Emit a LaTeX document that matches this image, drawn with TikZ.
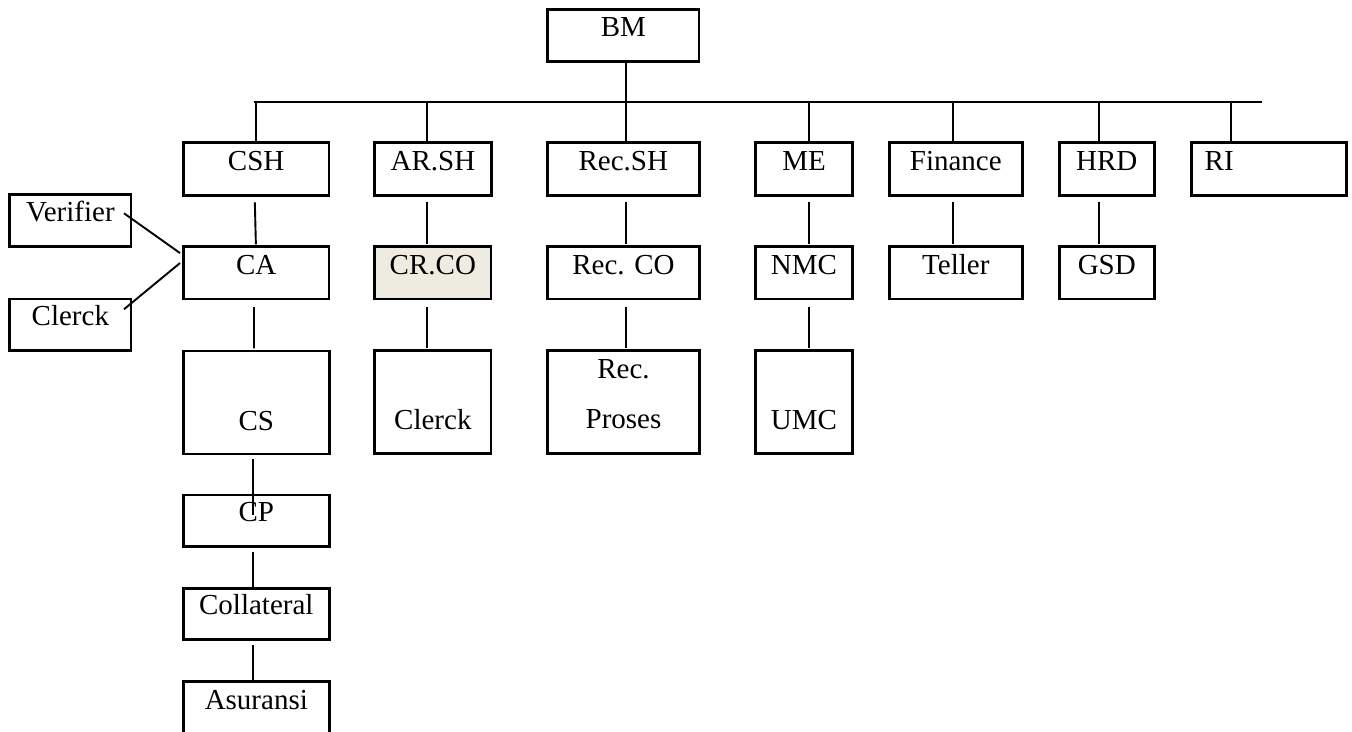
\documentclass[tikz,border=0pt]{standalone}
\usepackage{fontspec}
\setmainfont{Liberation Serif}
\usetikzlibrary{calc}
\definecolor{bgbeige}{HTML}{EEECE1}
\begin{document}
\begin{tikzpicture}[x=1pt,y=-1pt,
  bx/.style={draw, line width=2.5pt, inner sep=0pt, outer sep=0pt, anchor=north west,
    font=\fontsize{29}{32}\selectfont, text height=27.5pt, text depth=24.8pt},
  conn/.style={line width=1.9pt},
  sub/.style={conn, shorten <=7pt, shorten >=2.4pt}]
\useasboundingbox (0,0) rectangle (1352,731);
\fill[white] (0,0) rectangle (1352,731);
\clip (0,0) rectangle (1352,731);

% top
\node[bx, minimum width=151.3pt, text depth=24.9pt] (bm) at (547.7,9.3) {BM};

% first row
\node[bx, minimum width=145.7pt, text depth=25.3pt] (csh) at (183.3,142.5) {CSH};
\node[bx, minimum width=117.4pt, text depth=25.3pt] (arsh) at (374.3,142.5) {AR.SH};
\node[bx, minimum width=152pt, text depth=25.3pt] (recsh) at (547.3,142.5) {Rec.SH};
\node[bx, minimum width=96.6pt, text depth=25.3pt] (me) at (755.7,142.5) {ME};
\node[bx, minimum width=133pt, text depth=25.3pt] (fin) at (889.3,142.5) {Finance};
\node[bx, minimum width=95pt, text depth=25.3pt] (hrd) at (1059.3,142.5) {HRD};
\node[bx, text width=129pt, align=left, inner xsep=13pt, text depth=25.3pt] (ri) at (1191.7,142.5) {RI};

% second row
\node[bx, minimum width=121.3pt, text height=27pt, text depth=24.6pt] (verifier) at (9.7,194.7) {Verifier};
\node[bx, minimum width=145.5pt] (ca) at (183.5,246.7) {CA};
\node[bx, minimum width=116.3pt, fill=bgbeige] (crco) at (374.7,246.7) {CR.CO};
\node[bx, minimum width=151.6pt] (recco) at (547.7,246.7) {Rec. CO};
\node[bx, minimum width=96.6pt] (nmc) at (755.7,246.7) {NMC};
\node[bx, minimum width=133pt] (teller) at (889.3,246.7) {Teller};
\node[bx, minimum width=95pt] (gsd) at (1059.3,246.7) {GSD};
\node[bx, minimum width=121.3pt, text height=26pt, text depth=25.7pt] (clerckl) at (9.7,299) {Clerck};

% third row
\node[bx, minimum width=146pt, text height=79pt, text depth=24pt] (cs) at (183.3,351) {CS};
\node[bx, minimum width=116.3pt, text height=78.5pt, text depth=24.1pt] (clerckm) at (374.7,350.7) {Clerck};
\node[bx, minimum width=151.6pt, align=center, font=\fontsize{29}{50}\selectfont,
      text height=77.6pt, text depth=25pt] (recpro) at (547.7,350.7) {Rec.\\Proses};
\node[bx, minimum width=96.6pt, text height=78.5pt, text depth=24.1pt] (umc) at (755.7,350.7) {UMC};

% CS chain
\node[bx, minimum width=146pt, text height=26.7pt, text depth=25pt] (cp) at (183.3,495) {CP};
\node[bx, minimum width=146pt, text height=25.7pt, text depth=25.3pt] (coll) at (183.3,588.3) {Collateral};
\node[bx, minimum width=146pt, text height=27.6pt, text depth=40pt] (asur) at (183.3,681.7) {Asuransi};

% bar junctions
\coordinate (jstart) at (253.5,102.3);
\coordinate (jend) at (1262,102.3);
\coordinate (j1) at (255.7,102.3);
\coordinate (j2) at (427.3,102.3);
\coordinate (j3) at (626,102.3);
\coordinate (j4) at (808.7,102.3);
\coordinate (j5) at (953,102.3);
\coordinate (j6) at (1099.3,102.3);
\coordinate (j7) at (1230.7,102.3);

\draw[conn] (jstart) -- (jend);
\draw[conn, shorten <=1.5pt] (j3 |- bm.south) -- (j3 |- recsh.north);
\draw[conn] (j1) -- (j1 |- csh.north);
\draw[conn] (j2) -- (j2 |- arsh.north);
\draw[conn] (j4) -- (j4 |- me.north);
\draw[conn] (j5) -- (j5 |- fin.north);
\draw[conn] (j6) -- (j6 |- hrd.north);
\draw[conn] (j7) -- (j7 |- ri.north);

% first to second row
\draw[sub] ([xshift=-1.5pt]csh.south) -- ([xshift=-0.3pt]ca.north);
\draw[sub] (j2 |- arsh.south) -- (j2 |- crco.north);
\draw[sub] (j3 |- recsh.south) -- (j3 |- recco.north);
\draw[sub] (j4 |- me.south) -- (j4 |- nmc.north);
\draw[sub] (j5 |- fin.south) -- (j5 |- teller.north);
\draw[sub] (j6 |- hrd.south) -- (j6 |- gsd.north);

% side boxes
\draw[conn] ($(verifier.east)+(-7,-7.2)$) -- ($(ca.west)+(-3.5,-19.8)$);
\draw[conn] ($(clerckl.east)+(-7,-15.6)$) -- ($(ca.west)+(-3.5,-9.8)$);

% second to third row
\draw[conn, shorten <=8pt, shorten >=2.7pt] ([xshift=-2.2pt]ca.south) -- ([xshift=-2.3pt]cs.north);
\draw[conn, shorten <=7.7pt, shorten >=2.4pt] (j2 |- crco.south) -- (j2 |- clerckm.north);
\draw[conn, shorten <=7.7pt, shorten >=2.4pt] (j3 |- recco.south) -- (j3 |- recpro.north);
\draw[conn, shorten <=7.7pt, shorten >=2.4pt] (j4 |- nmc.south) -- (j4 |- umc.north);

% CS chain connectors
\draw[conn, shorten <=4.7pt, shorten >=-20pt] ([xshift=-3pt]cs.south) -- ([xshift=-3pt]cp.north);
\draw[conn, shorten <=5pt, shorten >=-1.7pt] ([xshift=-3pt]cp.south) -- ([xshift=-3pt]coll.north);
\draw[conn, shorten <=5.7pt, shorten >=1.7pt] ([xshift=-3pt]coll.south) -- ([xshift=-3pt]asur.north);
\end{tikzpicture}
\end{document}
